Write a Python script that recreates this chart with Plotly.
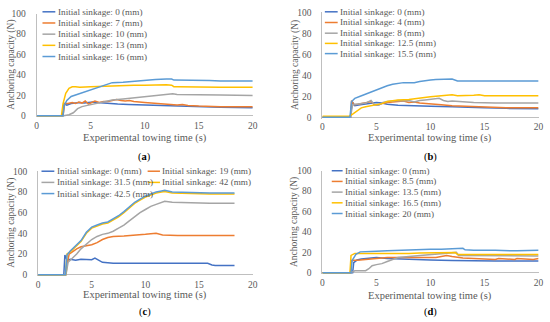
import plotly.graph_objects as go

W, H = 550, 322
FONT = "Liberation Serif"
TXT = "#595959"
COLORS = ["#4472C4", "#ED7D31", "#A5A5A5", "#FFC000", "#5B9BD5"]

# ---------------- data (time in s, anchoring capacity in N) ----------------
a_names = ["Initial sinkage: 0 (mm)", "Initial sinkage: 7 (mm)", "Initial sinkage: 10 (mm)",
           "Initial sinkage: 13 (mm)", "Initial sinkage: 16 (mm)"]
a0_t = [0, 2.4, 2.55, 2.8, 3.2, 3.6, 4.0, 4.4, 4.8, 5.2, 5.6, 6.5, 7.5, 8.5, 10, 11, 12.5, 14, 15, 17, 20]
a0_y = [0, 0, 12, 10.5, 12, 12.5, 13, 12.5, 13, 13.5, 13, 12, 11.5, 11, 10.5, 10.5, 10, 9.5, 9, 8.5, 8]
a1_t = [0, 2.45, 2.6, 2.9, 3.3, 3.6, 3.9, 4.2, 4.5, 4.8, 5.1, 5.4, 5.8, 6.2, 6.6, 7.0, 7.4, 7.8, 8.2, 8.6,
        9.0, 10, 11, 12, 13, 13.5, 14, 15, 17, 20]
a1_y = [0, 0, 12, 12, 13, 12, 13.5, 12.5, 14.5, 11.5, 13, 14.5, 13, 14, 14, 15, 16, 15, 14.5, 15,
        14, 13, 12, 11, 10.5, 11, 10, 9.5, 9, 9]
a2_t = [0, 2.5, 3.0, 3.4, 3.8, 4.2, 4.6, 5, 5.5, 6, 6.5, 7, 8, 9, 10, 11, 12, 12.6, 13, 15, 17, 20]
a2_y = [0, 0, 1, 3, 7, 9, 10, 11, 12, 13, 14, 15.5, 16.5, 17.5, 18.5, 19.5, 20.5, 21.5, 21, 20.5, 20.5, 20]
a3_t = [0, 2.3, 2.45, 2.7, 3.0, 3.3, 3.6, 4, 5, 6, 7, 8, 9, 10, 11, 12, 12.5, 12.7, 13, 15, 17, 20]
a3_y = [0, 0, 12, 22, 27, 28.5, 28.5, 28, 28.5, 29, 29.5, 30, 30, 30, 30.5, 30.5, 30, 28.5, 28.5, 28, 28, 28]
a4_t = [0, 2.45, 2.55, 2.8, 3.2, 3.6, 4, 4.5, 5, 5.5, 6, 6.5, 7, 8, 9, 10, 11, 12, 12.5, 12.7,
        14, 15, 16, 17, 20]
a4_y = [0, 0, 10, 15, 19, 20.5, 22, 23.5, 25, 27, 29.5, 31, 32.5, 33, 34, 35, 35.5, 36, 36, 35,
        35, 34.5, 34.5, 34, 34]

b_names = ["Initial sinkage: 0 (mm)", "Initial sinkage: 4 (mm)", "Initial sinkage: 8 (mm)",
           "Initial sinkage: 12.5 (mm)", "Initial sinkage: 15.5 (mm)"]
b0_t = [0, 2.6, 2.75, 3.0, 3.5, 4, 4.5, 5, 5.5, 6, 7, 8, 9, 10, 12, 13, 15, 17, 20]
b0_y = [0, 0, 15, 11, 12, 12.5, 13, 14, 13.5, 12.5, 11.5, 11, 10.5, 10.5, 10, 9.5, 9, 8.5, 8]
b1_t = [0, 2.6, 2.7, 2.9, 3.3, 3.7, 4.1, 4.5, 4.8, 5.1, 5.5, 6, 6.5, 7, 7.5, 8, 8.5, 9, 10, 11,
        12, 13, 14, 15, 17, 20]
b1_y = [0, 0, 16, 12, 12.5, 13, 14, 15, 12, 11.5, 13, 14, 14.5, 15, 15.5, 14, 14.5, 13.5, 13, 12,
        11, 10.5, 10, 9.5, 9, 9]
b2_t = [0, 2.6, 2.8, 3.2, 3.6, 4, 4.5, 4.8, 5.2, 5.6, 6, 6.5, 7, 7.5, 8, 8.5, 9, 9.5, 10, 10.5,
        10.8, 11.2, 11.6, 12, 12.5, 13, 14, 16, 18, 20]
b2_y = [0, 0, 12, 12.5, 13, 13.5, 16, 12, 11.5, 14, 15, 15.5, 16, 15.5, 16, 14.5, 16, 16.5, 17, 17.5,
        18, 16, 15, 15.5, 15, 14.5, 14, 13.5, 13.5, 13.5]
b3_t = [0, 2.5, 2.8, 3.2, 3.6, 4, 4.5, 5, 5.5, 6, 6.5, 7, 8, 9, 10, 11, 11.5, 12, 12.5, 13,
        13.5, 14, 14.5, 15, 17, 20]
b3_y = [1, 1, 3, 6, 9, 10, 11, 12, 13, 15, 16, 16.5, 17, 18.5, 19.5, 20.5, 21, 21.5, 20.5, 20.5,
        20.5, 21, 21.5, 20.5, 20.5, 20.5]
b4_t = [0, 2.55, 2.7, 3, 3.5, 4, 4.5, 5, 5.5, 6, 6.5, 7, 7.5, 8, 8.5, 9, 9.5, 10, 10.5, 11,
        12, 12.5, 13, 14, 15, 16, 17, 18, 20]
b4_y = [0, 0, 15, 18, 20, 22, 24, 26, 28.5, 30, 31.5, 32.5, 33, 33, 33, 34, 35, 35.5, 36, 36,
        36.5, 34.5, 34.5, 34.5, 34, 34, 34, 34.5, 34.5]

c_names = ["Initial sinkage: 0 (mm)", "Initial sinkage: 19 (mm)", "Initial sinkage: 31.5 (mm)",
           "Initial sinkage: 42 (mm)", "Initial sinkage: 42.5 (mm)"]
c0_t = [0, 2.4, 2.5, 2.7, 3, 3.5, 4, 4.5, 5, 5.3, 5.6, 6, 6.5, 7, 8, 10, 12, 14, 15.8, 16.2, 16.5, 18.3]
c0_y = [0, 0, 19, 14, 15, 14, 15, 14.5, 14.5, 16, 14, 12, 11.5, 11, 11, 11, 11, 11, 11, 9.5, 9, 9]
c1_t = [0, 2.6, 2.7, 2.9, 3.2, 3.6, 4, 4.5, 5, 5.5, 6, 6.5, 7, 8, 9, 10, 11, 11.3, 11.6, 13, 15, 18.3]
c1_y = [0, 0, 10, 20, 22, 25, 27, 28, 29, 31, 34, 36, 37, 37.5, 38, 39, 40, 39.5, 38.5, 38, 38, 38]
c2_t = [0, 2.6, 2.8, 3.2, 3.6, 4, 4.5, 5, 5.5, 6, 6.5, 7, 7.5, 8, 8.5, 9, 9.5, 10, 10.5, 11,
        11.5, 11.8, 12.5, 14, 16, 18.3]
c2_y = [0, 0, 12, 16, 20, 25, 30, 34, 37, 39, 40, 42, 45, 48, 52, 56, 60, 63, 66, 68,
        70, 71, 70, 69.5, 69, 69]
c3_t = [0, 2.55, 2.7, 3, 3.5, 4, 4.5, 5, 5.5, 6, 6.5, 7, 7.5, 8, 8.5, 9, 9.5, 10, 10.5, 11,
        11.5, 11.8, 12.5, 14, 16, 18.3]
c3_y = [0, 0, 20, 22, 27, 32, 40, 45, 47, 49, 50, 53, 56, 60, 65, 69, 72, 75, 77, 79,
        80, 80.5, 79, 78.5, 78, 78]
c4_t = [0, 2.55, 2.7, 3, 3.5, 4, 4.5, 5, 5.5, 6, 6.5, 7, 7.5, 8, 8.5, 9, 9.5, 10, 10.5, 11,
        11.5, 11.8, 12.5, 14, 16, 18.3]
c4_y = [0, 0, 19, 23, 28, 33, 41, 46, 48, 50, 51, 54, 57, 61, 66, 70, 73, 76, 78, 80,
        81, 81.5, 80, 79.5, 79, 79]

d_names = ["Initial sinkage: 0 (mm)", "Initial sinkage: 8.5 (mm)", "Initial sinkage: 13.5 (mm)",
           "Initial sinkage: 16.5 (mm)", "Initial sinkage: 20 (mm)"]
d0_t = [0, 2.8, 2.9, 3.2, 3.6, 4, 5, 6, 7, 8, 9, 10, 12, 14, 16, 18, 20]
d0_y = [0, 0, 10, 12.5, 13.5, 14, 15, 14, 13.5, 13, 12.5, 12.5, 12, 11.5, 11.5, 11.5, 11.5]
d1_t = [0, 2.6, 2.7, 3, 3.5, 4, 4.5, 5, 6, 7, 8, 9, 10, 10.5, 11, 11.5, 12, 12.5, 13, 14,
        15, 16, 16.3, 17, 17.8, 18, 19, 19.5, 20]
d1_y = [0, 0, 12, 12, 12.5, 13, 13.5, 14, 15, 15, 15, 15, 15.5, 15, 16, 17, 16, 15, 14.5, 14,
        13.5, 13, 14, 13.5, 13, 14, 13.5, 13, 14]
d2_t = [0, 2.6, 3, 3.5, 4, 4.3, 4.6, 5, 5.5, 6, 6.5, 7, 8, 9, 10, 11, 12, 12.4, 12.6, 14, 16, 18, 20]
d2_y = [0, 0, 2, 2, 2, 4, 7, 8, 9, 11, 13, 15, 16, 17, 18, 18.5, 19.5, 20, 17, 17, 17, 16.5, 16.5]
d3_t = [0, 2.55, 2.65, 3, 4, 5, 6, 7, 8, 9, 10, 11, 12, 12.3, 12.5, 14, 16, 18, 20]
d3_y = [0, 0, 17, 19, 19, 19, 18.5, 19, 19, 19.5, 19.5, 20, 20, 20, 18, 18, 18, 18, 18]
d4_t = [0, 2.65, 2.75, 3.1, 3.5, 4, 5, 6, 7, 8, 9, 10, 11, 12, 13, 13.2, 14, 16, 18, 20]
d4_y = [0, 0, 12, 18, 20.5, 20.5, 21, 21.5, 22, 22.5, 22.5, 23, 23, 23.5, 24, 22.5, 22, 22, 21.5, 22]

x_ticks = [0, 5, 10, 15, 20]
y_ticks = [0, 20, 40, 60, 80, 100]
panel_labels = ["(<b>a</b>)", "(<b>b</b>)", "(<b>c</b>)", "(<b>d</b>)"]
x_title = "Experimental towing time (s)"
y_title = "Anchoring capacity (N)"

panels = [
    (a_names, [(a0_t, a0_y), (a1_t, a1_y), (a2_t, a2_y), (a3_t, a3_y), (a4_t, a4_y)]),
    (b_names, [(b0_t, b0_y), (b1_t, b1_y), (b2_t, b2_y), (b3_t, b3_y), (b4_t, b4_y)]),
    (c_names, [(c0_t, c0_y), (c1_t, c1_y), (c2_t, c2_y), (c3_t, c3_y), (c4_t, c4_y)]),
    (d_names, [(d0_t, d0_y), (d1_t, d1_y), (d2_t, d2_y), (d3_t, d3_y), (d4_t, d4_y)]),
]

# ---------------- layout geometry (pixels) ----------------
# x of t=0, x of t=20, y of N=0, y of N=100
geo = [(35, 254, 114, 9), (324.5, 543.5, 115.5, 7.5), (36.5, 254, 277.5, 171), (324.5, 543.5, 275.5, 170.5)]
YLO = -1.5
ytitle_x = [10, 298, 10, 297]
xtitle_y = [136.5, 137, 298.5, 299]
plabel_y = [156, 156, 315.5, 315.5]
# legend columns: (line x start, line x end, text x, row ys, entry indices)
legends = [
    [(41, 54, 54.5, [7, 18.5, 30, 41.5, 53], [0, 1, 2, 3, 4])],
    [(327, 340, 340.5, [7, 18, 29, 39.5, 50], [0, 1, 2, 3, 4])],
    [(40, 53, 53.5, [171, 182.5, 194], [0, 2, 4]), (147.5, 160, 160.5, [171, 182.5], [1, 3])],
    [(334, 345, 345.5, [170.5, 181.5, 192.5, 203.5, 214.5], [0, 1, 2, 3, 4])],
]


def px(x):
    return x / W


def py(y):
    return 1 - y / H


fig = go.Figure()
layout = dict(width=W, height=H, margin=dict(l=0, r=0, t=0, b=0),
              paper_bgcolor="white", plot_bgcolor="white", showlegend=False,
              font=dict(family=FONT, color=TXT))
annotations = []
shapes = []

for i, (names, series) in enumerate(panels):
    k = "" if i == 0 else str(i + 1)
    x0, x20, y0, y100 = geo[i]
    ppu = (y0 - y100) / 100
    ybot = y0 - YLO * ppu
    layout["xaxis" + k] = dict(domain=[px(x0), px(x20)], range=[0, 20], anchor="y" + k,
                               tickvals=x_ticks, showgrid=False, zeroline=False, showline=False,
                               ticks="", tickfont=dict(size=9.5, color=TXT), ticklabelstandoff=1)
    layout["yaxis" + k] = dict(domain=[py(ybot), py(y100)], range=[YLO, 100], anchor="x" + k,
                               tickvals=y_ticks, showgrid=False, zeroline=True,
                               zerolinecolor="#BFBFBF", zerolinewidth=1,
                               showline=True, linecolor="#BFBFBF", linewidth=1,
                               ticks="", tickfont=dict(size=9.5, color=TXT), ticklabelstandoff=8)
    for j, (t, y) in enumerate(series):
        fig.add_trace(go.Scatter(x=t, y=y, mode="lines", name=names[j],
                                 line=dict(color=COLORS[j], width=1.5),
                                 xaxis="x" + k, yaxis="y" + k, hoverinfo="skip"))
    cx = (x0 + x20) / 2
    annotations.append(dict(text=x_title, x=px(cx), y=py(xtitle_y[i]), xref="paper", yref="paper",
                            showarrow=False, xanchor="center", yanchor="middle",
                            font=dict(size=10.5, color=TXT)))
    annotations.append(dict(text=y_title, x=px(ytitle_x[i]), y=py((y0 + y100) / 2), xref="paper",
                            yref="paper", showarrow=False, textangle=-90, xanchor="center",
                            yanchor="middle", font=dict(size=9.5, color=TXT)))
    annotations.append(dict(text=panel_labels[i], x=px(cx), y=py(plabel_y[i]), xref="paper",
                            yref="paper", showarrow=False, xanchor="center", yanchor="middle",
                            font=dict(size=10.5, color="black")))
    for (lx0, lx1, tx, rows, idx) in legends[i]:
        for ry, j in zip(rows, idx):
            shapes.append(dict(type="line", xref="paper", yref="paper", x0=px(lx0), x1=px(lx1),
                               y0=py(ry), y1=py(ry), line=dict(color=COLORS[j], width=1.5)))
            annotations.append(dict(text=names[j], x=px(tx), y=py(ry), xref="paper", yref="paper",
                                    showarrow=False, xanchor="left", yanchor="middle",
                                    font=dict(size=9.2, color=TXT)))

layout["annotations"] = annotations
layout["shapes"] = shapes
fig.update_layout(**layout)
fig.write_html("out.html", config={"displayModeBar": False},
               post_script="document.body.style.margin='0';document.body.style.overflow='hidden';")
